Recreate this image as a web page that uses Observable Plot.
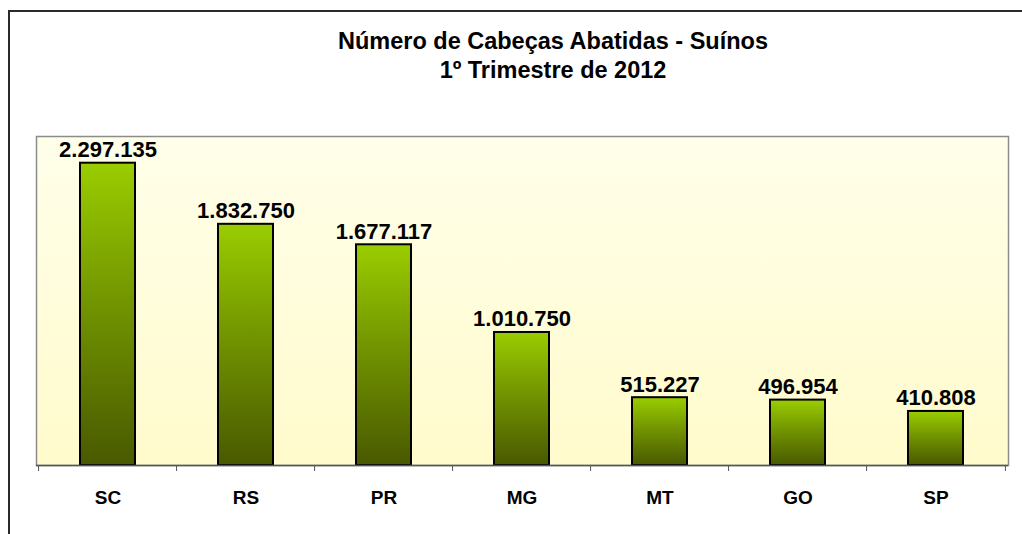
<!DOCTYPE html>
<html>
<head>
<meta charset="utf-8">
<script src="https://cdn.jsdelivr.net/npm/d3@7"></script>
<script src="https://cdn.jsdelivr.net/npm/@observablehq/plot@0.6"></script>
<style>
  html, body { margin: 0; padding: 0; background: #fff; }
  #wrap { position: relative; width: 1022px; height: 534px; overflow: hidden; font-family: Arial, "Liberation Sans", Helvetica, sans-serif; }
  #border { position: absolute; left: 8px; top: 10px; width: 1100px; height: 600px; border-left: 2px solid #2a2a2a; border-top: 2px solid #2a2a2a; }
  #title { position: absolute; left: 42px; top: 27px; width: 1022px; text-align: center; font-weight: bold; font-size: 23.5px; line-height: 29px; color: #000; }
  #chart { position: absolute; left: 0; top: 0; }
</style>
</head>
<body>
<div id="wrap">
  <div id="border"></div>
  <div id="chart"></div>
  <div id="title">Número de Cabeças Abatidas - Suínos<br>1º Trimestre de 2012</div>
</div>
<script>
const states = ["SC", "RS", "PR", "MG", "MT", "GO", "SP"];
const heads = [2297135, 1832750, 1677117, 1010750, 515227, 496954, 410808];

const data = states.map((s, i) => ({state: s, value: heads[i]}));
const fmt = d3.formatLocale({decimal: ",", thousands: ".", grouping: [3], currency: ["R$", ""]}).format(",d");

const width = 1022, height = 534;
const mL = 36, mR = 14, mT = 136, mB = 69;
const step = (width - mL - mR) / states.length;

const defs = () => {
  const svgNS = "http://www.w3.org/2000/svg";
  const d = document.createElementNS(svgNS, "defs");
  d.innerHTML = `
    <linearGradient id="barGrad" x1="0" y1="0" x2="0" y2="1">
      <stop offset="0" stop-color="#9acd00"/>
      <stop offset="0.45" stop-color="#739600"/>
      <stop offset="1" stop-color="#495900"/>
    </linearGradient>
    <linearGradient id="bgGrad" x1="0" y1="0" x2="0" y2="1">
      <stop offset="0" stop-color="#ffffea"/>
      <stop offset="1" stop-color="#fffbcc"/>
    </linearGradient>`;
  return d;
};

const chart = Plot.plot({
  width, height,
  marginLeft: mL, marginRight: mR, marginTop: mT, marginBottom: mB,
  style: {background: "transparent", fontFamily: "Arial, 'Liberation Sans', Helvetica, sans-serif", overflow: "visible"},
  x: {domain: states, paddingInner: 0.6, paddingOuter: 0.3, label: null},
  y: {domain: [0, 2500000], axis: null},
  marks: [
    defs,
    Plot.frame({fill: "url(#bgGrad)", stroke: "#8c8c8c", strokeWidth: 1.5}),
    Plot.barY(data, {x: "state", y: "value", fill: "url(#barGrad)", stroke: "#000", strokeWidth: 2}),
    Plot.text(data, {x: "state", y: "value", text: d => fmt(d.value), dy: -6, lineAnchor: "bottom",
      fontSize: 22, fontWeight: "bold", fill: "#000"}),
    Plot.ruleY([0], {stroke: "#555", strokeWidth: 1.5}),
    Plot.axisX({tickSize: 6, tickFormat: () => "", stroke: "#555", dx: -step / 2}),
    Plot.axisX(["SP"], {tickSize: 6, tickFormat: () => "", stroke: "#555", dx: step / 2}),
    Plot.axisX({tickSize: 0, tickPadding: 25, fontSize: 19, fontWeight: "bold", fill: "#000", label: null})
  ]
});
document.getElementById("chart").appendChild(chart);
</script>
</body>
</html>
